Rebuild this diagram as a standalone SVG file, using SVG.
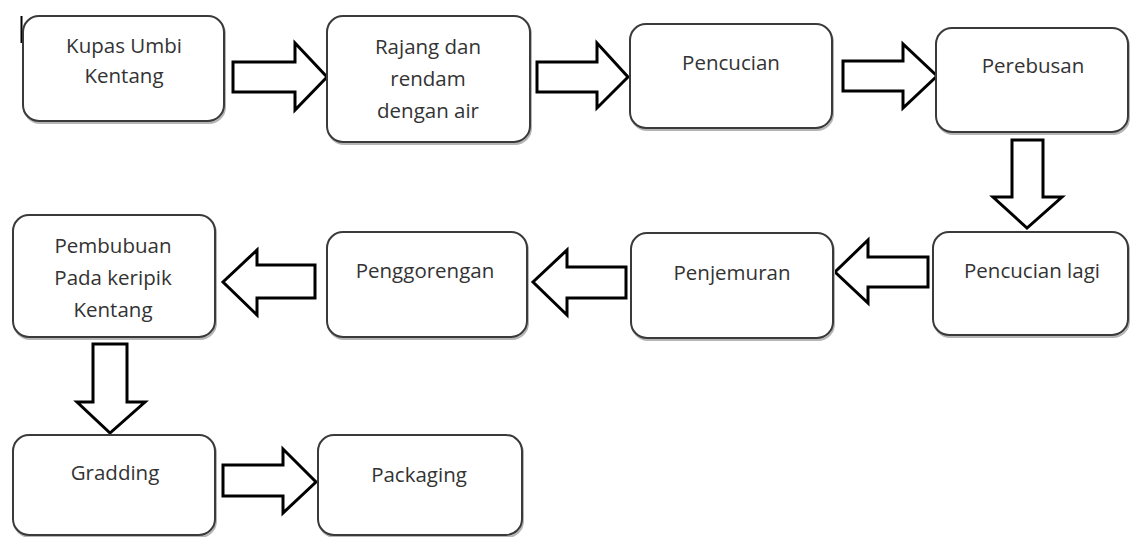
<svg xmlns="http://www.w3.org/2000/svg" width="1130" height="537" viewBox="0 0 1130 537">
<style>
.box{fill:#fff;stroke:#3a3a3a;stroke-width:2}
.sh{fill:none;stroke:#b5b5b5;stroke-width:2}
.lbl{font-family:"Open Sans","Liberation Sans",sans-serif;font-size:20.5px;fill:#333;text-anchor:middle}
.arr{fill:#fff;stroke:#000;stroke-width:3;stroke-linejoin:miter}
</style>
<rect width="1130" height="537" fill="#fff"/>
<line x1="21.5" y1="16" x2="21.5" y2="43" stroke="#000" stroke-width="2"/>
<g id="connectors">
<polygon class="arr" points="233,62 295,62 295,43 327,77 295,110 295,92 233,92"/>
<polygon class="arr" points="537,62 597,62 597,43 628,77 597,108 597,92 537,92"/>
<polygon class="arr" points="843,61 903,61 903,44 937,76 903,108 903,91 843,91"/>
<polygon class="arr" points="1012,140 1043,140 1043,197 1062,197 1027,228 993,197 1012,197"/>
<polygon class="arr" points="928,257 868,257 868,240 835,272 868,303 868,287 928,287"/>
<polygon class="arr" points="626,267 567,267 567,250 533,282 567,315 567,298 626,298"/>
<polygon class="arr" points="315,265 257,265 257,250 223,282 257,315 257,298 315,298"/>
<polygon class="arr" points="93,344 127,344 127,402 145,402 110,433 77,402 93,402"/>
<polygon class="arr" points="223,465 283,465 283,449 316,482 283,513 283,496 223,496"/>
</g>
<g id="n1"><rect class="sh" x="24" y="18" width="201" height="105" rx="16"/><rect class="box" x="23" y="16" width="201" height="105" rx="16"/>
<text class="lbl" x="124" y="53">Kupas Umbi</text><text class="lbl" x="124" y="83">Kentang</text></g>
<g id="n2"><rect class="sh" x="328" y="18" width="203" height="126" rx="16"/><rect class="box" x="327" y="16" width="203" height="126" rx="16"/>
<text class="lbl" x="428" y="54">Rajang dan</text><text class="lbl" x="428" y="86">rendam</text><text class="lbl" x="428" y="118">dengan air</text></g>
<g id="n3"><rect class="sh" x="631" y="26" width="202" height="104" rx="16"/><rect class="box" x="630" y="24" width="202" height="104" rx="16"/>
<text class="lbl" x="731" y="70">Pencucian</text></g>
<g id="n4"><rect class="sh" x="937" y="30" width="192" height="104" rx="16"/><rect class="box" x="936" y="28" width="192" height="104" rx="16"/>
<text class="lbl" x="1033" y="73">Perebusan</text></g>
<g id="n5"><rect class="sh" x="934" y="234" width="195" height="103" rx="16"/><rect class="box" x="933" y="232" width="195" height="103" rx="16"/>
<text class="lbl" x="1032" y="278">Pencucian lagi</text></g>
<g id="n6"><rect class="sh" x="632" y="235" width="202" height="105" rx="16"/><rect class="box" x="631" y="233" width="202" height="105" rx="16"/>
<text class="lbl" x="732" y="280">Penjemuran</text></g>
<g id="n7"><rect class="sh" x="328" y="234" width="200" height="105" rx="16"/><rect class="box" x="327" y="232" width="200" height="105" rx="16"/>
<text class="lbl" x="425" y="278">Penggorengan</text></g>
<g id="n8"><rect class="sh" x="14" y="217" width="202" height="122" rx="16"/><rect class="box" x="13" y="215" width="202" height="122" rx="16"/>
<text class="lbl" x="113" y="253">Pembubuan</text><text class="lbl" x="113" y="285">Pada keripik</text><text class="lbl" x="113" y="317">Kentang</text></g>
<g id="n9"><rect class="sh" x="14" y="437" width="202" height="100" rx="16"/><rect class="box" x="13" y="435" width="202" height="100" rx="16"/>
<text class="lbl" x="115" y="480">Gradding</text></g>
<g id="n10"><rect class="sh" x="319" y="437" width="204" height="100" rx="16"/><rect class="box" x="318" y="435" width="204" height="100" rx="16"/>
<text class="lbl" x="419" y="482">Packaging</text></g>
</svg>
